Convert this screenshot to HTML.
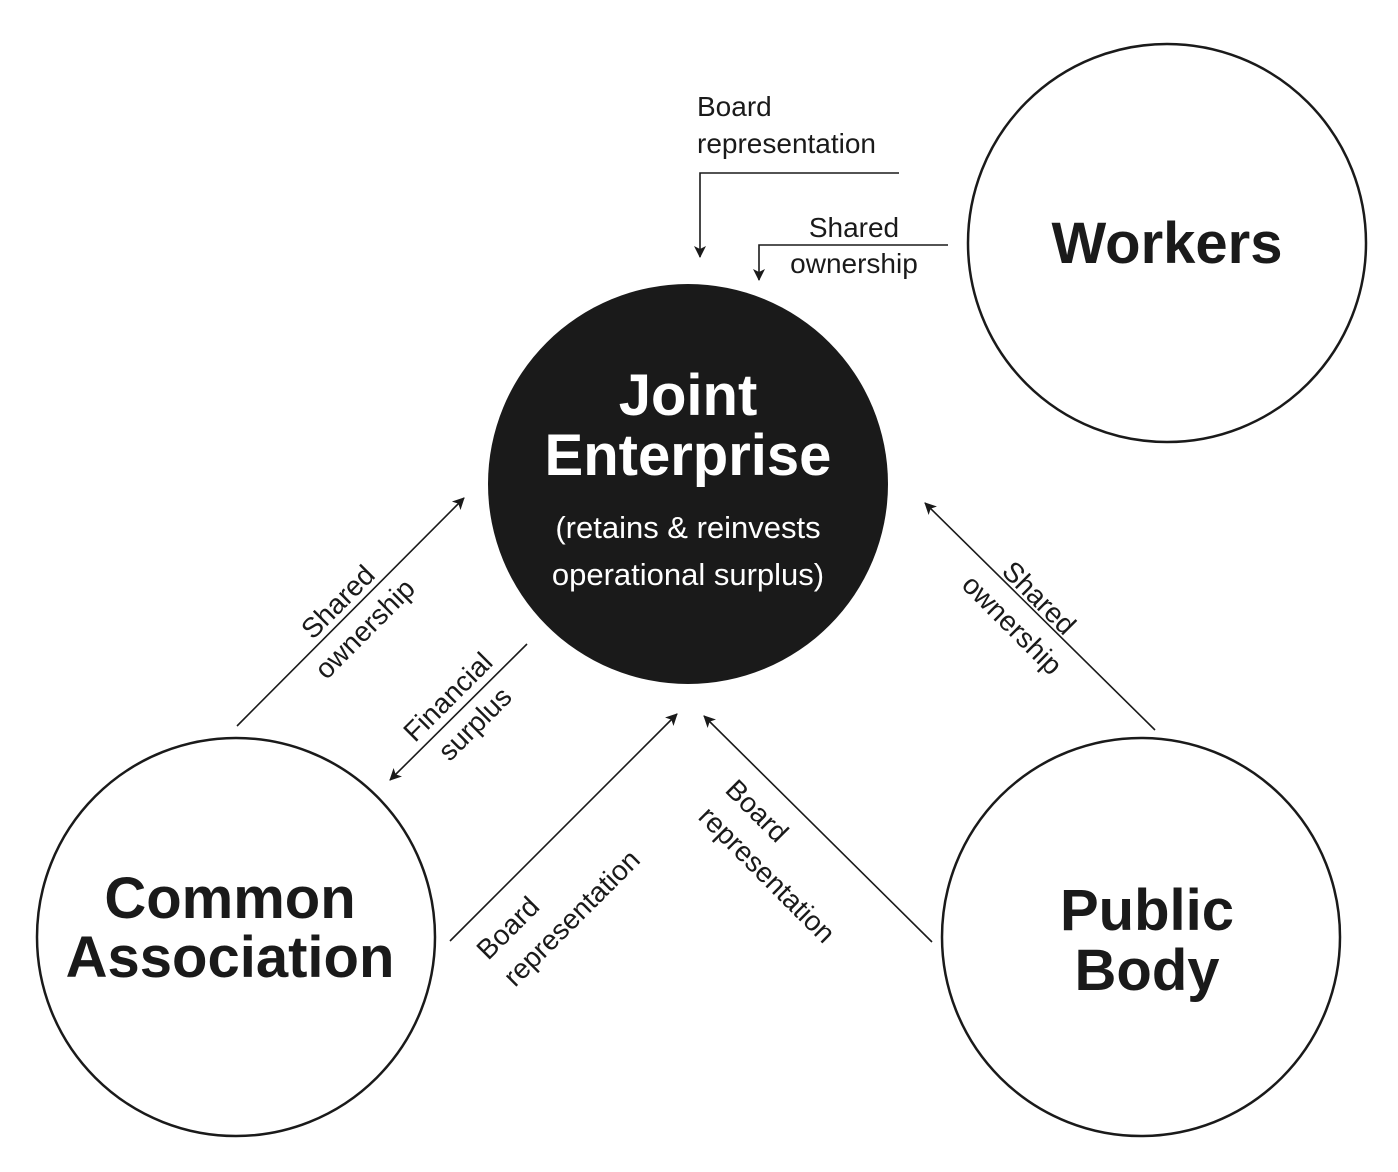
<!DOCTYPE html>
<html><head><meta charset="utf-8"><style>
html,body{margin:0;padding:0;background:#fff;}
svg{display:block;}
text{font-family:"Liberation Sans",Arial,sans-serif;fill:#1a1a1a;}
.l{font-size:28px;}
.b{font-size:58px;font-weight:bold;}
</style></head><body>
<svg width="1398" height="1172" viewBox="0 0 1398 1172" xmlns="http://www.w3.org/2000/svg">
<defs>
<marker id="a" viewBox="0 0 12 12" refX="11" refY="6" markerWidth="12" markerHeight="12" markerUnits="userSpaceOnUse" orient="auto">
<path d="M0,0 L12,6 L0,12 L3,6 Z" fill="#1a1a1a"/>
</marker>
</defs>
<!-- circles -->
<circle cx="688" cy="484" r="200" fill="#1a1a1a"/>
<circle cx="1167" cy="243" r="199" fill="none" stroke="#1a1a1a" stroke-width="2.5"/>
<circle cx="236" cy="937" r="199" fill="none" stroke="#1a1a1a" stroke-width="2.5"/>
<circle cx="1141" cy="937" r="199" fill="none" stroke="#1a1a1a" stroke-width="2.5"/>

<!-- titles -->
<text class="b" x="1167" y="263" text-anchor="middle">Workers</text>
<text class="b" x="688" y="415" text-anchor="middle" fill="#fff" style="fill:#fff">Joint</text>
<text class="b" x="688" y="475" text-anchor="middle" style="fill:#fff">Enterprise</text>
<text x="688" y="538" text-anchor="middle" style="fill:#fff;font-size:31px">(retains &amp; reinvests</text>
<text x="688" y="585" text-anchor="middle" style="fill:#fff;font-size:31px">operational surplus)</text>
<text class="b" x="230" y="918" text-anchor="middle">Common</text>
<text class="b" x="230" y="977" text-anchor="middle">Association</text>
<text class="b" x="1147" y="930" text-anchor="middle">Public</text>
<text class="b" x="1147" y="990" text-anchor="middle">Body</text>

<!-- connectors -->
<g stroke="#1a1a1a" stroke-width="1.6" fill="none">
<polyline points="899,173 700,173 700,257" marker-end="url(#a)"/>
<polyline points="948,245 759,245 759,280" marker-end="url(#a)"/>
<line x1="237" y1="726" x2="464" y2="498" marker-end="url(#a)"/>
<line x1="527" y1="644" x2="390" y2="780" marker-end="url(#a)"/>
<line x1="450" y1="941" x2="677" y2="714" marker-end="url(#a)"/>
<line x1="932" y1="942" x2="704" y2="716" marker-end="url(#a)"/>
<line x1="1155" y1="730" x2="925" y2="503" marker-end="url(#a)"/>
</g>

<!-- labels -->
<text class="l" x="697" y="116">Board</text>
<text class="l" x="697" y="153">representation</text>
<text class="l" x="854" y="237" text-anchor="middle">Shared</text>
<text class="l" x="854" y="273" text-anchor="middle">ownership</text>

<g transform="translate(351,615) rotate(-45)">
<text class="l" x="0" y="-9" text-anchor="middle">Shared</text>
<text class="l" x="0" y="29" text-anchor="middle">ownership</text>
</g>
<g transform="translate(461,710) rotate(-45)">
<text class="l" x="0" y="-9" text-anchor="middle">Financial</text>
<text class="l" x="0" y="29" text-anchor="middle">surplus</text>
</g>
<g transform="translate(561,901) rotate(-45)">
<text class="l" x="-94" y="-9">Board</text>
<text class="l" x="-94" y="29">representation</text>
</g>
<g transform="translate(784,864) rotate(45)">
<text class="l" x="-94" y="-9">Board</text>
<text class="l" x="-94" y="29">representation</text>
</g>
<g transform="translate(1026,611) rotate(45)">
<text class="l" x="0" y="-9" text-anchor="middle">Shared</text>
<text class="l" x="0" y="29" text-anchor="middle">ownership</text>
</g>
</svg>
</body></html>
